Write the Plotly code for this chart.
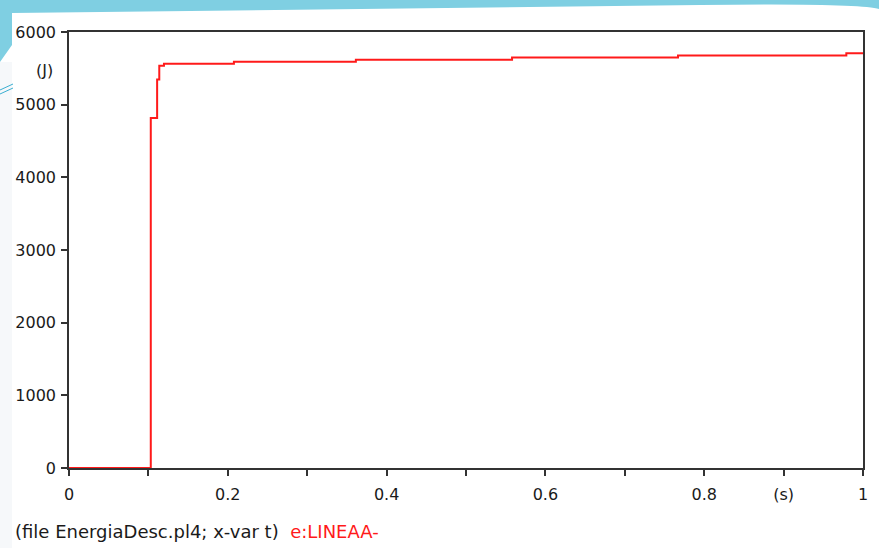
import plotly.graph_objects as go

# Data (step changes of energy)
t_s = [0, 0.103, 0.111, 0.1137, 0.1196, 0.2077, 0.3613, 0.558, 0.767, 0.979, 1.0]
energy_j = [0, 4816, 5347, 5534, 5563, 5590, 5618, 5649, 5676, 5709, 5709]

x_tickvals = [0, 0.1, 0.2, 0.3, 0.4, 0.5, 0.6, 0.7, 0.8, 0.9, 1.0]
x_ticktext = ["0", "", "0.2", "", "0.4", "", "0.6", "", "0.8", "(s)", "1"]
y_tickvals = [0, 1000, 2000, 3000, 4000, 5000, 6000]
y_ticktext = ["0", "1000", "2000", "3000", "4000", "5000", "6000"]

W, H = 879, 548
L, R, T, B = 69, 16, 32, 80
PW, PH = W - L - R, H - T - B


def px(x):
    return (x - L) / PW


def py(y):
    return (H - B - y) / PH


fig = go.Figure()
fig.add_trace(go.Scatter(
    x=t_s, y=energy_j, mode="lines", line_shape="hv",
    line=dict(color="#ff1a1a", width=2), cliponaxis=False,
    showlegend=False, hoverinfo="skip",
))

font_family = "DejaVu Sans, Verdana, sans-serif"
FS = 16
axis_common = dict(
    showgrid=False, zeroline=False, showline=True, linecolor="#333333",
    linewidth=1.5, mirror=True, ticks="outside", ticklen=6, tickwidth=1.5,
    tickcolor="#333333", layer="below traces",
    tickfont=dict(family=font_family, size=FS, color="#1a1a1a"),
)

fig.update_xaxes(range=[0, 1], tickmode="array", tickvals=x_tickvals,
                 ticktext=x_ticktext, ticklabelstandoff=5, **axis_common)
fig.update_yaxes(range=[0, 6000], tickmode="array", tickvals=y_tickvals,
                 ticktext=y_ticktext, ticklabelstandoff=2, **axis_common)

shapes = [
    # cyan top band
    dict(type="path", xref="paper", yref="paper", layer="below",
         path=(f"M {px(0)},{py(0)} L {px(879)},{py(0)} L {px(879)},{py(9)} "
               f"Q {px(860)},{py(3)} {px(700)},{py(5)} L {px(12)},{py(13)} "
               f"L {px(12)},{py(45)} L {px(0)},{py(62)} Z"),
         fillcolor="#7fcfe2", line=dict(width=0)),
    # light left strip
    dict(type="rect", xref="paper", yref="paper", layer="below",
         x0=px(0), x1=px(12), y0=py(548), y1=py(62),
         fillcolor="#f6f8fa", line=dict(width=0)),
    # thin cyan strokes on the left
    dict(type="line", xref="paper", yref="paper",
         x0=px(0), y0=py(90), x1=px(13), y1=py(84),
         line=dict(color="#3aaed0", width=1)),
    dict(type="line", xref="paper", yref="paper",
         x0=px(0), y0=py(94), x1=px(13), y1=py(88),
         line=dict(color="#3aaed0", width=1)),
]

annotations = [
    dict(text="(J)", xref="paper", yref="paper", x=px(55), y=py(70),
         xanchor="right", yanchor="middle", showarrow=False,
         font=dict(family=font_family, size=FS, color="#1a1a1a")),
    dict(text="(file EnergiaDesc.pl4; x-var t)  <span style='color:#ff1a1a'>e:LINEAA-</span>",
         xref="paper", yref="paper", x=px(13), y=py(531),
         xanchor="left", yanchor="middle", showarrow=False,
         font=dict(family=font_family, size=18, color="#1a1a1a")),
]

fig.update_layout(
    width=W, height=H, margin=dict(l=L, r=R, t=T, b=B),
    paper_bgcolor="white", plot_bgcolor="white",
    shapes=shapes, annotations=annotations,
)

fig.write_html("out.html")
